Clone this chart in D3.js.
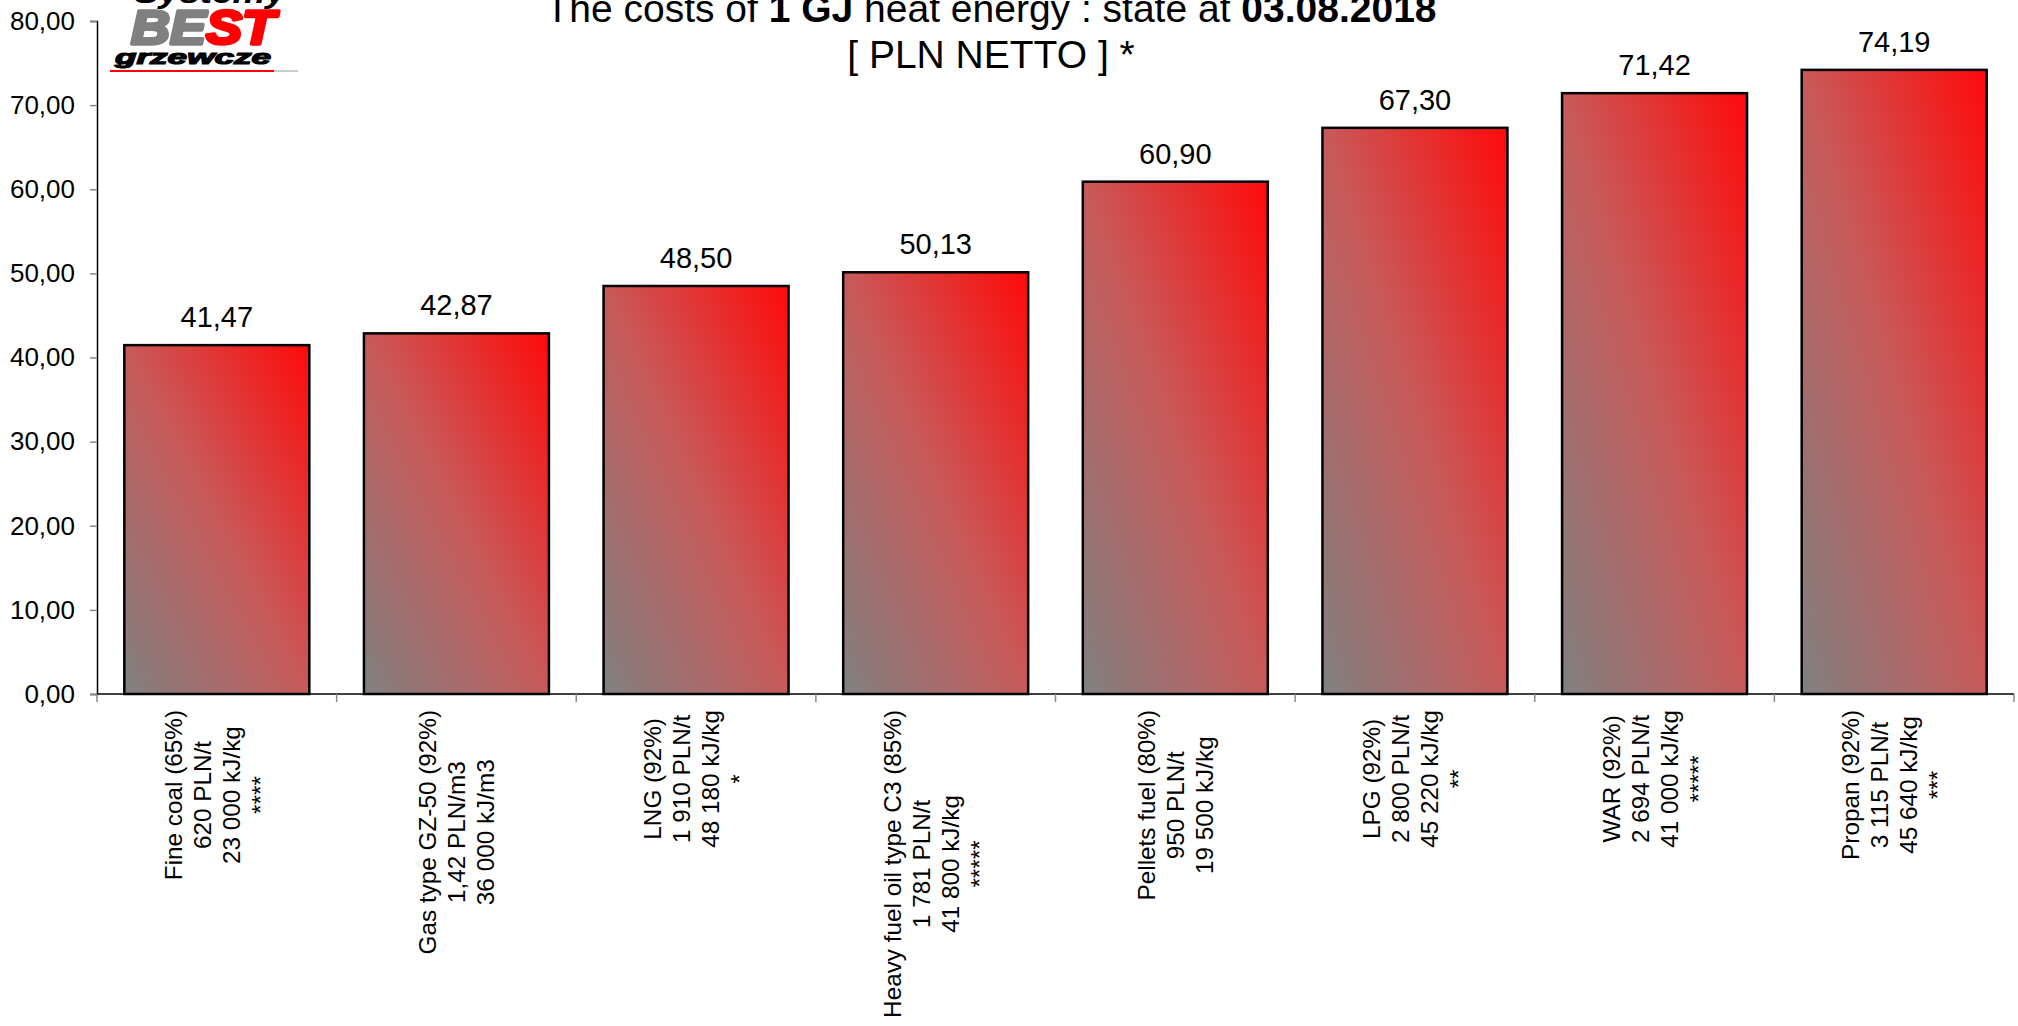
<!DOCTYPE html>
<html>
<head>
<meta charset="utf-8">
<script src="https://cdn.jsdelivr.net/npm/d3@7"></script>
<style>
body { margin: 0; background: #fff; }
text { font-family: "Liberation Sans", Arial, sans-serif; }
</style>
</head>
<body>
<div id="chart"></div>
<script>
// chart data
var fuels = ["Fine coal (65%)", "Gas type GZ-50 (92%)", "LNG (92%)", "Heavy fuel oil type C3 (85%)",
             "Pellets fuel (80%)", "LPG (92%)", "WAR (92%)", "Propan (92%)"];
var prices = ["620 PLN/t", "1,42 PLN/m3", "1 910 PLN/t", "1 781 PLN/t",
              "950 PLN/t", "2 800 PLN/t", "2 694 PLN/t", "3 115 PLN/t"];
var heatValues = ["23 000 kJ/kg", "36 000 kJ/m3", "48 180 kJ/kg", "41 800 kJ/kg",
                  "19 500 kJ/kg", "45 220 kJ/kg", "41 000 kJ/kg", "45 640 kJ/kg"];
var notes = ["****", "", "*", "*****", "", "**", "*****", "***"];
var costs = [41.47, 42.87, 48.50, 50.13, 60.90, 67.30, 71.42, 74.19];
var yTicks = [0, 10, 20, 30, 40, 50, 60, 70, 80];

var W = 2018, H = 1026;
var margin = {top: 21, right: 4, bottom: 332, left: 97};
var width = W - margin.left - margin.right;
var height = H - margin.top - margin.bottom;

var comma = function (v) { return d3.format(".2f")(v).replace(".", ","); };

var svg = d3.select("#chart").append("svg")
    .attr("width", W)
    .attr("height", H);

// gradient gray -> red, bottom-left to top-right
var grad = svg.append("defs").append("linearGradient")
    .attr("id", "barGrad")
    .attr("x1", 0).attr("y1", 1).attr("x2", 1).attr("y2", 0);
grad.append("stop").attr("offset", "0%").attr("stop-color", "#808080");
grad.append("stop").attr("offset", "50%").attr("stop-color", "#c85a5a");
grad.append("stop").attr("offset", "100%").attr("stop-color", "#ff0a0a");

var g = svg.append("g")
    .attr("transform", "translate(" + margin.left + "," + margin.top + ")");

var x = d3.scaleBand()
    .domain(fuels)
    .range([0, width])
    .paddingInner(0.228)
    .paddingOuter(0.114);

var y = d3.scaleLinear()
    .domain([0, 80])
    .range([height, 0]);

// y axis
var yAxis = g.append("g")
    .call(d3.axisLeft(y).tickValues(yTicks).tickSize(7).tickFormat(comma));
yAxis.select(".domain").attr("stroke", "#000").attr("stroke-width", 1.5);
yAxis.selectAll(".tick line").attr("stroke", "#888").attr("stroke-width", 1.5);
yAxis.selectAll(".tick text")
    .attr("x", -22)
    .attr("font-size", 26)
    .attr("fill", "#000")
    .style("font-family", "'Liberation Sans', Arial, sans-serif");

// x axis line and boundary ticks
var step = x.step();
g.append("line")
    .attr("x1", 0).attr("x2", width)
    .attr("y1", height).attr("y2", height)
    .attr("stroke", "#000").attr("stroke-width", 1.5);
g.selectAll(".xtick")
    .data(d3.range(fuels.length + 1))
    .enter().append("line")
    .attr("class", "xtick")
    .attr("x1", function (i) { return i * step; })
    .attr("x2", function (i) { return i * step; })
    .attr("y1", height)
    .attr("y2", height + 8)
    .attr("stroke", "#888").attr("stroke-width", 1.5);

// bars
g.selectAll(".bar")
    .data(costs)
    .enter().append("rect")
    .attr("class", "bar")
    .attr("x", function (d, i) { return x(fuels[i]); })
    .attr("y", function (d) { return y(d); })
    .attr("width", x.bandwidth())
    .attr("height", function (d) { return height - y(d); })
    .attr("fill", "url(#barGrad)")
    .attr("stroke", "#000")
    .attr("stroke-width", 2.5);

// value labels
g.selectAll(".val")
    .data(costs)
    .enter().append("text")
    .attr("class", "val")
    .attr("x", function (d, i) { return x(fuels[i]) + x.bandwidth() / 2; })
    .attr("y", function (d) { return y(d) - 18; })
    .attr("text-anchor", "middle")
    .attr("font-size", 29)
    .text(function (d) { return comma(d); });

// category labels, rotated, lines centered in block
var lineGap = 29;
fuels.forEach(function (f, i) {
    var lines = [f, prices[i], heatValues[i]];
    if (notes[i]) lines.push(notes[i]);
    var cx = x(f) + x.bandwidth() / 2;
    var lg = g.append("g");
    var texts = lines.map(function (l) {
        return lg.append("text")
            .attr("text-anchor", "middle")
            .attr("font-size", 24.3)
            .attr("dy", "0.35em")
            .text(l);
    });
    var maxW = d3.max(texts, function (t) { return t.node().getComputedTextLength(); });
    var cy = height + 16 + maxW / 2;
    texts.forEach(function (t, j) {
        var lx = cx + (j - (lines.length - 1) / 2) * lineGap;
        t.attr("transform", "translate(" + lx + "," + cy + ") rotate(-90)");
    });
});

// title
var title = svg.append("text")
    .attr("x", 991).attr("y", 22)
    .attr("text-anchor", "middle")
    .attr("font-size", 39);
title.append("tspan").text("The costs of ");
title.append("tspan").attr("font-weight", "bold").text("1 GJ");
title.append("tspan").text(" heat energy : state at ");
title.append("tspan").attr("font-weight", "bold").text("03.08.2018");
svg.append("text")
    .attr("x", 991).attr("y", 68)
    .attr("text-anchor", "middle")
    .attr("font-size", 39)
    .text("[ PLN NETTO ] *");

// logo
var logo = svg.append("g");
logo.append("rect").attr("x", 108).attr("y", 0).attr("width", 192).attr("height", 74).attr("fill", "#fff");
logo.append("text")
    .attr("x", 134).attr("y", 3)
    .attr("font-size", 30).attr("font-weight", "bold").attr("font-style", "italic")
    .attr("textLength", 152).attr("lengthAdjust", "spacingAndGlyphs")
    .text("Systemy");
var best = logo.append("text")
    .attr("x", 131).attr("y", 44)
    .attr("font-size", 48).attr("font-weight", "bold").attr("font-style", "italic")
    .attr("stroke-width", 3.5).attr("stroke-linejoin", "round")
    .attr("textLength", 144).attr("lengthAdjust", "spacingAndGlyphs");
best.append("tspan").attr("fill", "#808080").attr("stroke", "#808080").text("BE");
best.append("tspan").attr("fill", "#ff0000").attr("stroke", "#ff0000").text("ST");
logo.append("text")
    .attr("x", 115).attr("y", 64)
    .attr("font-size", 20).attr("font-weight", "bold").attr("font-style", "italic")
    .attr("stroke", "#000").attr("stroke-width", 1.2)
    .attr("textLength", 156).attr("lengthAdjust", "spacingAndGlyphs")
    .text("grzewcze");
logo.append("line").attr("x1", 110).attr("x2", 274).attr("y1", 71).attr("y2", 71)
    .attr("stroke", "#ff0000").attr("stroke-width", 2);
logo.append("line").attr("x1", 274).attr("x2", 298).attr("y1", 71).attr("y2", 71)
    .attr("stroke", "#bbb").attr("stroke-width", 1.5);
</script>
</body>
</html>
